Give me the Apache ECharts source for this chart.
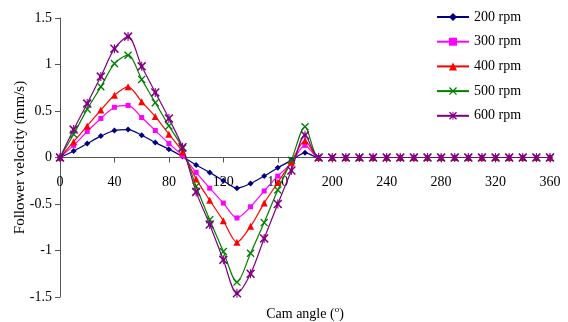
<!DOCTYPE html>
<html>
<head>
<meta charset="utf-8">
<script src="https://cdn.jsdelivr.net/npm/echarts@6/dist/echarts.min.js"></script>
<style>html,body{margin:0;padding:0;background:#fff;}#c{width:568px;height:322px;}</style>
</head>
<body>
<div id="c"></div>
<script>
var angles = [0,10,20,30,40,50,60,70,80,90,100,110,120,130,140,150,160,170,180,190,200,210,220,230,240,250,260,270,280,290,300,310,320,330,340,350,360];
var rpm200 = [0,0.07,0.15,0.23,0.29,0.30,0.24,0.16,0.09,0.01,-0.08,-0.16,-0.25,-0.33,-0.28,-0.20,-0.11,-0.03,0.05,0,0,0,0,0,0,0,0,0,0,0,0,0,0,0,0,0,0];
var rpm300 = [0,0.13,0.28,0.42,0.54,0.56,0.43,0.29,0.15,0.02,-0.16,-0.33,-0.49,-0.65,-0.53,-0.36,-0.20,-0.06,0.13,0,0,0,0,0,0,0,0,0,0,0,0,0,0,0,0,0,0];
var rpm400 = [0,0.17,0.34,0.51,0.67,0.76,0.60,0.44,0.25,0.06,-0.23,-0.46,-0.68,-0.91,-0.74,-0.49,-0.27,-0.05,0.18,0,0,0,0,0,0,0,0,0,0,0,0,0,0,0,0,0,0];
var rpm500 = [0,0.25,0.52,0.76,1.01,1.10,0.84,0.59,0.34,0.10,-0.31,-0.67,-1.01,-1.34,-1.03,-0.70,-0.35,-0.03,0.33,0,0,0,0,0,0,0,0,0,0,0,0,0,0,0,0,0,0];
var rpm600 = [0,0.30,0.58,0.87,1.17,1.30,0.98,0.70,0.42,0.11,-0.37,-0.72,-1.10,-1.46,-1.25,-0.87,-0.50,-0.14,0.24,0,0,0,0,0,0,0,0,0,0,0,0,0,0,0,0,0,0];
var seriesNames = ['200 rpm','300 rpm','400 rpm','500 rpm','600 rpm'];
var yTitle = 'Follower velocity (mm/s)';

var FONT = '"Liberation Serif", "Times New Roman", serif';
var xSym = 'path://M0,1.2 L1.2,0 L10,8.8 L8.8,10 Z M8.8,0 L10,1.2 L1.2,10 L0,8.8 Z';
var starSym = 'path://M0,1.2 L1.2,0 L10,8.8 L8.8,10 Z M8.8,0 L10,1.2 L1.2,10 L0,8.8 Z M4.4,0 L5.6,0 L5.6,10 L4.4,10 Z M3,3 L7,3 L7,7 L3,7 Z';
var styles = [
  {color:'#000080', symbol:'diamond', size:6},
  {color:'#FF00FF', symbol:'rect', size:5},
  {color:'#FF0000', symbol:'triangle', size:7},
  {color:'#008000', symbol:xSym, size:8},
  {color:'#800080', symbol:starSym, size:9}
];
var allVals = [rpm200, rpm300, rpm400, rpm500, rpm600];

function pairs(vals){ return angles.map(function(a,i){ return [a, vals[i]]; }); }

var series = allVals.map(function(vals, k){
  var s = styles[k];
  return {
    name: seriesNames[k], type:'line', data: pairs(vals),
    smooth: 0.3, symbol: s.symbol, symbolSize: s.size, showSymbol:true,
    lineStyle:{color:s.color, width:1.2},
    itemStyle:{color:s.color},
    emphasis:{disabled:true}, animation:false
  };
});

var GRID_TOP = 18, GRID_BOTTOM = 25, H = 322;
var plotH = H - GRID_TOP - GRID_BOTTOM;

var chart = echarts.init(document.getElementById('c'), null, {renderer:'canvas'});
chart.setOption({
  animation:false,
  backgroundColor:'#fff',
  grid:{left:60, right:18, top:GRID_TOP, bottom:GRID_BOTTOM, containLabel:false, outerBoundsMode:'none'},
  legend:{
    orient:'vertical', left:431, top:5, itemWidth:32, itemHeight:10, itemGap:10.7,
    textStyle:{fontFamily:FONT, fontSize:14, color:'#000'},
    data: seriesNames
  },
  xAxis:{
    type:'value', min:0, max:360, interval:40,
    offset: -plotH/2,
    axisLine:{onZero:false, lineStyle:{color:'#555', width:1}},
    axisTick:{show:true, inside:false, length:5, lineStyle:{color:'#555'}},
    axisLabel:{fontFamily:FONT, fontSize:14, color:'#000', margin:18},
    splitLine:{show:false},
    nameMoveOverlap:false,
    name: '{a|Cam angle (}{s|o}{a|)}', nameLocation:'middle', nameGap:148,
    nameTextStyle:{fontFamily:FONT, fontSize:14, color:'#000',
      rich:{a:{fontFamily:FONT, fontSize:14, color:'#000'}, s:{fontFamily:FONT, fontSize:9, color:'#000', verticalAlign:'top', padding:[0,0,8,0]}}}
  },
  yAxis:{
    type:'value', min:-1.5, max:1.5, interval:0.5,
    axisLine:{show:true, lineStyle:{color:'#555', width:1}},
    axisTick:{show:true, length:5, lineStyle:{color:'#555'}},
    axisLabel:{fontFamily:FONT, fontSize:14, color:'#000', margin:8},
    splitLine:{show:false},
    nameMoveOverlap:false,
    name: yTitle, nameLocation:'middle', nameGap:32,
    nameTextStyle:{fontFamily:FONT, fontSize:15, color:'#000'}
  },
  series: series
});
</script>
</body>
</html>
